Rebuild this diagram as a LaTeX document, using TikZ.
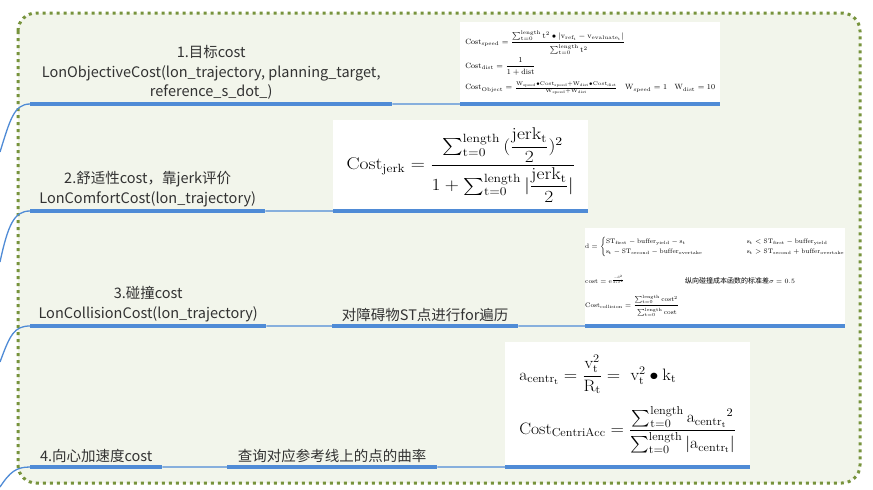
\RequirePackage{fix-cm}
\documentclass[tikz,border=0pt]{standalone}
\usepackage{amsmath}
\usepackage{amssymb}
\usepackage{graphicx}
\usepackage{fontspec}
\newfontfamily\cjk{Noto Sans CJK SC}
\definecolor{mapgreen}{RGB}{119,147,60}
\definecolor{mapfill}{RGB}{242,245,235}
\definecolor{mapblue}{RGB}{79,139,214}
\definecolor{maptext}{RGB}{50,50,50}

\begin{document}
\begin{tikzpicture}[x=1pt,y=-1pt,
    topic/.style={anchor=south west,inner xsep=0pt,inner ysep=4pt,text=maptext,
      font=\cjk\fontsize{14.5}{19.5}\selectfont,align=center},
    formula/.style={anchor=south west,fill=white,inner sep=0pt,align=left},
    thickline/.style={mapblue,line width=4pt},
    thinline/.style={mapblue,line width=1.3pt}]
  \useasboundingbox (0,0) rectangle (873,490);
  \fill[white] (0,0) rectangle (873,490);
  \draw[mapgreen,fill=mapfill,line width=3pt,dash pattern=on 3pt off 4pt,
    rounded corners=18pt] (18,13) rectangle (860,483);

  % branch 1
  \node[topic,minimum width=362pt] (t1) at (30,104)
    {1.目标cost\\LonObjectiveCost(lon\_trajectory, planning\_target,\\reference\_s\_dot\_)};
  \node[formula,minimum width=260pt,minimum height=82pt,font=\fontsize{7.6}{9}\selectfont] (f1) at (460,104) {%
    $\mathrm{Cost_{speed}}=\dfrac{\sum\nolimits_{\mathrm{t=0}}^{\mathrm{length}}\mathrm{t^2\bullet|v_{ref_t}-v_{evaluate_t}|}}{\rule{0pt}{9pt}\sum\nolimits_{\mathrm{t=0}}^{\mathrm{length}}\mathrm{t^2}}$\\[2pt]
    $\mathrm{Cost_{dist}}=\dfrac{1}{\mathrm{1+dist}}$\\[6pt]
    $\mathrm{Cost_{Object}}=\frac{\mathrm{W_{speed}\bullet Cost_{speed}+W_{dist}\bullet Cost_{dist}}}{\mathrm{W_{speed}+W_{dist}}}\quad\mathrm{W_{speed}=1\quad W_{dist}=10}$};

  % branch 2
  \node[formula,minimum width=255pt,minimum height=91pt,font=\fontsize{17}{20}\selectfont] (f2) at (333,211) {%
    \scalebox{1.15}[1]{$\mathrm{Cost_{jerk}}=\dfrac{\sum\nolimits_{\mathrm{t=0}}^{\mathrm{length}}\,(\dfrac{\mathrm{jerk_t}}{2})^2}{1+\sum\nolimits_{\mathrm{t=0}}^{\mathrm{length}}|\dfrac{\mathrm{jerk_t}}{2}|}$}};
  \node[topic,minimum width=235pt] (t2) at (30,211)
    {2.舒适性cost，靠jerk评价\\LonComfortCost(lon\_trajectory)};

  % branch 3
  \node[topic,minimum width=236pt] (t3) at (30,326)
    {3.碰撞cost\\LonCollisionCost(lon\_trajectory)};
  \node[topic,minimum width=186pt] (s3) at (332,326) {对障碍物ST点进行for遍历};
  \node[formula,minimum width=258pt,minimum height=98pt,font=\fontsize{6.5}{8}\selectfont] (f3) at (585,326) {%
    $\mathrm{d}=\begin{cases}\mathrm{ST_{first}-buffer_{yield}-s_t} & \hspace{38pt}\mathrm{s_t<ST_{first}-buffer_{yield}}\\
      \mathrm{s_t-ST_{second}-buffer_{overtake}} & \hspace{38pt}\mathrm{s_t>ST_{second}+buffer_{overtake}}\end{cases}$\\[18pt]
    $\mathrm{cost}=\mathrm{e}^{\frac{\mathrm{-d^2}}{\mathrm{2*\sigma^2}}}$\hspace{60pt}{\cjk\fontsize{7}{8}\selectfont 纵向碰撞成本函数的标准差}$\sigma=0.5$\\[10pt]
    $\mathrm{Cost_{collision}}=\dfrac{\sum\nolimits_{\mathrm{t=0}}^{\mathrm{length}}\mathrm{cost^2}}{\rule{0pt}{8pt}\sum\nolimits_{\mathrm{t=0}}^{\mathrm{length}}\mathrm{cost}}$};

  % branch 4
  \node[topic,minimum width=132pt] (t4) at (30,467) {4.向心加速度cost};
  \node[topic,minimum width=210pt] (s4) at (227,467) {查询对应参考线上的点的曲率};
  \node[formula,minimum width=245pt,minimum height=125pt,font=\fontsize{16.5}{19}\selectfont] (f4) at (505,467) {%
    \scalebox{1.07}[1]{$\mathrm{a_{centr_t}}=\dfrac{\mathrm{v_t^2}}{\mathrm{R_t}}=\ \mathrm{v_t^2\bullet k_t}$}\\[12pt]
    \scalebox{1.07}[1]{$\mathrm{Cost_{CentriAcc}}=\dfrac{\sum\nolimits_{\mathrm{t=0}}^{\mathrm{length}}\mathrm{a_{centr_t}}^2}{\sum\nolimits_{\mathrm{t=0}}^{\mathrm{length}}|\mathrm{a_{centr_t}}|}$}};

  % underlines
  \foreach \n in {t1,f1,t2,f2,t3,s3,f3,t4,s4,f4}
    \draw[thickline] (\n.south west) -- (\n.south east);

  % connectors
  \coordinate (p1) at (0,152);
  \coordinate (p2) at (0,262);
  \coordinate (p3) at (0,362);
  \coordinate (p4) at (0,487);
  \draw[thinline]
    (p1) .. controls (10,120) and (14,104) .. (t1.south west)
    (p2) .. controls (8,225) and (14,211) .. (t2.south west)
    (p3) .. controls (10,335) and (14,326) .. (t3.south west)
    (p4) .. controls (10,472) and (16,467) .. (t4.south west)
    (t1.south east) -- (f1.south west)
    (t2.south east) -- (f2.south west)
    (t3.south east) -- (s3.south west)
    (s3.south east) -- (f3.south west)
    (t4.south east) -- (s4.south west)
    (s4.south east) -- (f4.south west);
\end{tikzpicture}
\end{document}
